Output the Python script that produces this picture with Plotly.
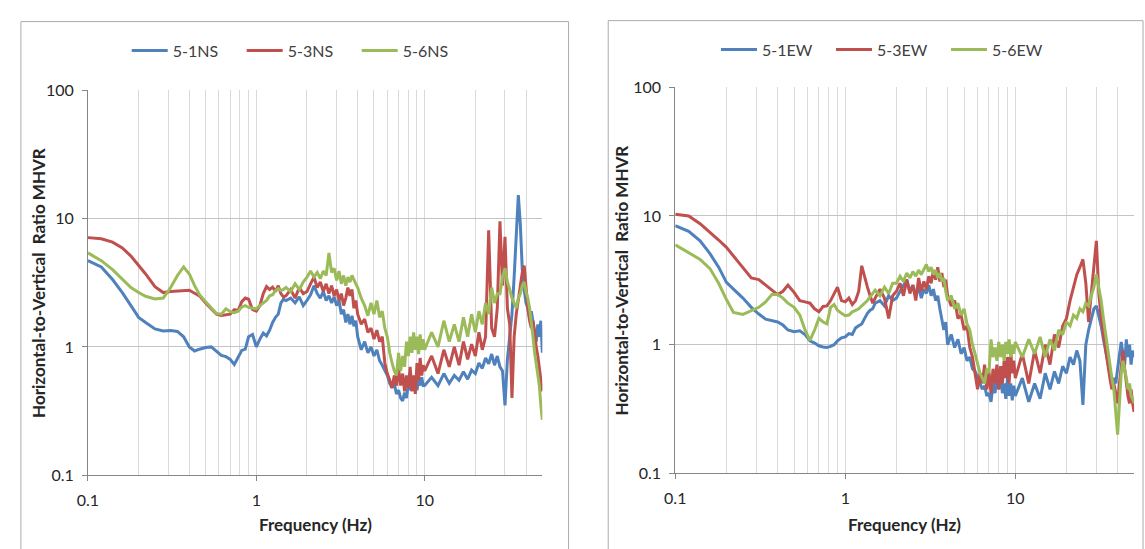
import plotly.graph_objects as go

# Frequency grid (Hz), shared by all series
FREQ = [0.1, 0.12, 0.14, 0.16, 0.18, 0.2, 0.22, 0.25, 0.28, 0.31, 0.34, 0.37, 0.4, 0.43, 0.46,
        0.5, 0.54, 0.58, 0.62, 0.66, 0.7, 0.74, 0.78, 0.82, 0.86, 0.9, 0.95,
        1.0, 1.05, 1.1, 1.15, 1.2, 1.25, 1.3, 1.35, 1.4, 1.45, 1.5, 1.6, 1.7, 1.8, 1.9,
        2.0, 2.1, 2.2, 2.3, 2.4, 2.5, 2.6, 2.7, 2.8, 2.9, 3.0, 3.1, 3.2, 3.3, 3.4, 3.5, 3.6, 3.7, 3.8, 3.9,
        4.0, 4.2, 4.4, 4.6, 4.8, 5.0, 5.2, 5.4, 5.6, 5.8, 6.0, 6.2, 6.4, 6.6, 6.8, 7.0, 7.2, 7.4, 7.6, 7.8,
        8.0, 8.2, 8.4, 8.6, 8.8, 9.0, 9.2, 9.4, 9.6, 9.8,
        10, 11, 12, 13, 14, 15, 16, 17, 18, 19, 20, 21, 22, 23, 24, 25, 26, 27, 28, 29,
        30, 31, 32, 33, 34, 35, 36, 37, 38, 39, 40, 41, 42, 43, 44, 45, 46, 47, 48, 49, 50]

NS_1 = ([4.7, 4.2, 3.35, 2.65, 2.1, 1.7, 1.55, 1.38, 1.33, 1.34, 1.32, 1.2, 1.0, 0.93, 0.96, 0.99, 1.0, 0.93, 0.86, 0.84, 0.8, 0.73, 0.82, 0.94, 0.96, 1.2, 1.25]
        + [1.0, 1.15, 1.28, 1.22, 1.35, 1.55, 1.7, 1.8, 2.2, 2.35, 2.3, 2.4, 2.2, 2.45, 2.1]
        + [2.3, 2.55, 3.0, 2.6, 2.4, 2.7, 2.3, 2.5, 2.2, 2.45, 2.1, 2.3, 1.8, 1.95, 1.55, 1.8, 1.5, 1.75, 1.45, 1.6]
        + [1.2, 0.95, 1.1, 0.9, 1.0, 0.85, 0.95, 0.78, 0.72, 0.65, 0.6, 0.52, 0.48, 0.52, 0.43, 0.46, 0.4, 0.38, 0.44, 0.4,
           0.52, 0.46, 0.55, 0.47, 0.53, 0.46, 0.56, 0.5, 0.58, 0.5]
        + [0.5, 0.58, 0.5, 0.62, 0.52, 0.6, 0.55, 0.64, 0.56, 0.66, 0.62, 0.75, 0.68, 0.82, 0.74, 0.88, 0.72, 0.85, 0.7, 0.65,
           0.35, 0.8, 1.2, 1.8, 3.5, 8.0, 15.2, 9.0, 4.0, 2.8, 2.2, 2.0, 1.7, 1.9, 1.5, 1.3, 1.1, 1.5, 1.2, 1.6, 0.9])

NS_3 = ([7.1, 6.95, 6.55, 5.9, 5.1, 4.35, 3.7, 2.95, 2.65, 2.7, 2.72, 2.75, 2.76, 2.62, 2.5, 2.2, 2.0, 1.8, 1.76, 1.78, 1.8, 1.95, 1.92, 2.25, 2.4, 2.35, 1.95]
        + [1.9, 2.1, 2.6, 2.95, 2.8, 2.92, 2.7, 3.0, 2.6, 2.45, 2.5, 2.8, 2.4, 2.9, 2.6]
        + [2.7, 3.1, 3.5, 2.9, 3.2, 2.7, 3.1, 2.6, 3.0, 2.5, 2.8, 2.3, 2.6, 2.1, 2.4, 2.9, 2.5, 2.8, 2.0, 2.3]
        + [1.8, 1.5, 1.65, 1.3, 1.4, 1.15, 1.35, 1.1, 1.2, 0.75, 0.62, 0.55, 0.48, 0.6, 0.5, 0.68, 0.5, 0.62, 0.45, 0.6,
           0.48, 0.7, 0.45, 0.6, 0.43, 0.75, 0.55, 0.82, 0.6, 0.72]
        + [0.65, 0.85, 0.62, 0.95, 0.7, 1.0, 0.72, 1.1, 0.8, 1.05, 0.85, 1.3, 0.95, 1.2, 8.1, 1.4, 1.2, 2.0, 9.5, 3.0,
           7.2, 2.0, 1.5, 0.4, 1.2, 1.8, 2.4, 3.0, 3.8, 4.3, 2.8, 2.0, 1.6, 1.4, 1.6, 1.2, 1.0, 0.85, 0.7, 0.55, 0.45])

NS_6 = ([5.4, 4.7, 4.0, 3.4, 2.9, 2.65, 2.48, 2.36, 2.4, 2.9, 3.6, 4.2, 3.7, 3.0, 2.55, 2.25, 2.0, 1.82, 1.8, 1.98, 1.88, 1.85, 1.9, 2.05, 2.1, 2.03, 2.0]
        + [1.98, 2.1, 2.2, 2.3, 2.5, 2.55, 2.75, 2.85, 2.75, 2.8, 2.9, 2.7, 3.1, 2.8, 3.2]
        + [3.5, 3.9, 3.5, 3.8, 3.4, 3.9, 3.6, 5.4, 3.8, 4.1, 3.3, 3.9, 3.1, 3.6, 3.0, 3.5, 3.2, 3.6, 3.3, 3.1]
        + [2.9, 2.4, 2.1, 1.75, 2.2, 1.8, 2.3, 1.7, 1.9, 1.4, 1.2, 0.9, 0.75, 0.65, 0.6, 0.9, 0.65, 0.85, 0.7, 1.1,
           0.85, 1.2, 0.9, 1.3, 0.95, 1.2, 0.88, 1.25, 0.95, 1.15]
        + [0.95, 1.3, 1.0, 1.6, 1.1, 1.5, 1.1, 1.7, 1.2, 1.8, 1.3, 1.9, 1.5, 2.2, 1.8, 2.9, 2.2, 2.6, 2.6, 3.5,
           4.1, 3.2, 2.8, 2.4, 2.2, 2.0, 2.4, 2.6, 3.0, 3.2, 2.7, 2.4, 2.0, 1.6, 1.2, 0.9, 0.75, 0.6, 0.5, 0.35, 0.27])

EW_1 = ([8.4, 7.6, 6.4, 5.1, 4.0, 3.05, 2.7, 2.3, 1.95, 1.73, 1.58, 1.53, 1.5, 1.42, 1.3, 1.26, 1.28, 1.2, 1.07, 1.03, 0.98, 0.96, 0.95, 0.97, 1.0, 1.07, 1.13]
        + [1.15, 1.22, 1.2, 1.35, 1.4, 1.45, 1.6, 1.75, 1.85, 1.9, 2.1, 2.2, 2.0, 2.4, 2.2]
        + [2.3, 2.6, 2.9, 3.2, 2.6, 2.9, 2.4, 2.8, 2.3, 2.7, 2.5, 2.9, 2.4, 2.7, 2.2, 2.4, 1.9, 1.6, 1.3, 1.5]
        + [1.0, 1.2, 0.95, 1.1, 0.85, 0.95, 0.75, 0.8, 0.65, 0.62, 0.55, 0.5, 0.45, 0.48, 0.4, 0.42, 0.36, 0.5, 0.42, 0.55,
           0.45, 0.6, 0.42, 0.5, 0.38, 0.55, 0.4, 0.5, 0.37, 0.48]
        + [0.4, 0.55, 0.36, 0.5, 0.38, 0.6, 0.45, 0.62, 0.5, 0.68, 0.6, 0.8, 0.7, 0.9, 0.75, 0.34, 1.0, 1.3, 1.6, 1.9,
           2.0, 1.7, 1.4, 1.1, 0.9, 0.75, 0.6, 0.5, 0.55, 0.5, 0.65, 0.8, 1.05, 0.85, 0.7, 1.1, 0.8, 1.0, 0.7, 0.9, 0.8])

EW_3 = ([10.3, 10.0, 8.7, 7.5, 6.5, 5.7, 4.9, 4.0, 3.3, 3.2, 2.9, 2.65, 2.45, 2.6, 2.9, 2.55, 2.2, 2.15, 2.1, 1.9, 1.8, 1.98, 2.0, 2.2, 2.5, 2.8, 2.2]
        + [2.15, 2.3, 2.05, 2.2, 2.6, 4.1, 3.3, 2.8, 2.4, 2.1, 2.3, 2.7, 2.3, 1.6, 2.4]
        + [2.6, 3.0, 2.4, 3.2, 2.5, 2.9, 2.2, 3.3, 2.6, 3.1, 2.7, 3.4, 3.0, 3.8, 3.2, 4.0, 3.1, 3.6, 2.8, 3.2]
        + [2.4, 2.0, 2.2, 1.6, 1.7, 1.3, 1.4, 0.95, 0.8, 0.6, 0.45, 0.6, 0.5, 0.7, 0.45, 0.62, 0.42, 0.65, 0.5, 0.7,
           0.45, 0.68, 0.5, 0.75, 0.55, 0.8, 0.5, 0.9, 0.6, 0.75]
        + [0.55, 0.85, 0.5, 0.9, 0.6, 1.0, 0.7, 1.2, 0.95, 1.4, 1.6, 2.2, 2.8, 3.5, 4.0, 4.6, 3.0, 1.5, 2.5, 4.2,
           6.4, 2.5, 1.6, 1.2, 0.9, 0.7, 0.55, 0.45, 0.5, 0.42, 0.35, 0.5, 0.7, 0.9, 0.65, 0.5, 0.4, 0.35, 0.45, 0.35, 0.3])

EW_6 = ([5.96, 5.2, 4.6, 3.9, 3.0, 2.24, 1.78, 1.72, 1.85, 1.95, 2.15, 2.45, 2.45, 2.3, 2.1, 1.95, 1.7, 1.3, 1.08, 1.3, 1.6, 1.5, 1.45, 1.95, 2.05, 1.85, 1.75]
        + [1.68, 1.7, 1.8, 1.85, 1.9, 2.0, 2.1, 2.2, 2.35, 2.5, 2.65, 2.4, 2.8, 2.5, 3.0]
        + [3.0, 3.4, 3.1, 3.6, 3.3, 3.7, 3.4, 3.8, 3.5, 3.9, 4.2, 3.7, 4.0, 3.5, 3.8, 3.3, 3.6, 3.1, 3.3, 2.6]
        + [2.2, 2.4, 1.9, 2.1, 1.7, 1.9, 1.45, 1.3, 1.0, 0.85, 0.7, 0.6, 0.55, 0.5, 0.65, 0.6, 1.1, 0.8, 0.95, 0.75,
           1.05, 0.8, 1.0, 0.75, 1.05, 0.85, 1.1, 0.8, 1.0, 0.85]
        + [1.05, 0.8, 1.1, 0.85, 1.15, 0.8, 1.1, 0.9, 1.3, 1.2, 1.5, 1.4, 1.7, 1.6, 1.9, 1.8, 2.1, 2.0, 2.4, 2.8,
           3.5, 2.8, 2.2, 1.6, 1.2, 0.9, 0.7, 0.55, 0.45, 0.3, 0.2, 0.35, 0.6, 0.75, 0.65, 0.55, 0.45, 0.5, 0.4, 0.38, 0.35])

NAMES_NS = ["5-1NS", "5-3NS", "5-6NS"]
NAMES_EW = ["5-1EW", "5-3EW", "5-6EW"]
COLORS = ["#4F81BD", "#C0504D", "#9BBB59"]

X_MAJOR = [0.1, 1, 10]
X_MAJOR_TEXT = ["0.1", "1", "10"]
X_MINOR = [0.2, 0.3, 0.4, 0.5, 0.6, 0.7, 0.8, 0.9, 2, 3, 4, 5, 6, 7, 8, 9, 20, 30, 40, 50]
Y_MAJOR = [0.1, 1, 10, 100]
Y_MAJOR_TEXT = ["0.1", "1", "10", "100"]

W, H = 1145, 549
FONT = "Lato, Carlito, Calibri, sans-serif"
VGRID = "#D9D9D9"
HGRID = "#C4C4C4"
AXIS = "#868686"

fig = go.Figure()
for name, vals, col in zip(NAMES_NS, [NS_1, NS_3, NS_6], COLORS):
    fig.add_trace(go.Scatter(x=FREQ, y=vals, mode="lines", name=name,
                             line=dict(color=col, width=3), xaxis="x", yaxis="y", legend="legend"))
for name, vals, col in zip(NAMES_EW, [EW_1, EW_3, EW_6], COLORS):
    fig.add_trace(go.Scatter(x=FREQ, y=vals, mode="lines", name=name,
                             line=dict(color=col, width=3), xaxis="x2", yaxis="y2", legend="legend2"))


def px_x(p):
    return p / W


def px_y(p):
    return 1 - p / H


def xaxis(dom, anchor):
    return dict(type="log", domain=dom, anchor=anchor, range=[-1, 1.69899],
                tickmode="array", tickvals=X_MAJOR, ticktext=X_MAJOR_TEXT,
                showgrid=True, gridcolor=VGRID, gridwidth=1,
                minor=dict(tickmode="array", tickvals=X_MINOR, showgrid=True, gridcolor=VGRID, gridwidth=1, ticks=""),
                showline=True, linecolor=AXIS, linewidth=1, ticks="outside", ticklen=5, tickcolor=AXIS,
                tickfont=dict(family=FONT, size=16, color="#262626"), ticklabelstandoff=5, fixedrange=True)


def yaxis(dom, anchor):
    return dict(type="log", domain=dom, anchor=anchor, range=[-1, 2],
                tickmode="array", tickvals=Y_MAJOR, ticktext=Y_MAJOR_TEXT,
                showgrid=True, gridcolor=HGRID, gridwidth=1,
                showline=True, linecolor=AXIS, linewidth=1, ticks="outside", ticklen=5, tickcolor=AXIS,
                tickfont=dict(family=FONT, size=16, color="#262626"), ticklabelstandoff=5, fixedrange=True)


legend_common = dict(orientation="h", xanchor="center", yanchor="middle",
                     font=dict(family=FONT, size=16, color="#404040"), bgcolor="rgba(0,0,0,0)",
                     entrywidth=64, entrywidthmode="pixels", itemwidth=36)

fig.update_layout(
    width=W, height=H, margin=dict(l=0, r=0, t=0, b=0),
    paper_bgcolor="white", plot_bgcolor="white",
    xaxis=xaxis([px_x(77.7), px_x(536.5)], "y"),
    yaxis=yaxis([px_y(482), px_y(83)], "x"),
    xaxis2=xaxis([px_x(670.7), px_x(1134)], "y2"),
    yaxis2=yaxis([px_y(480), px_y(80)], "x2"),
    legend=dict(x=px_x(291), y=px_y(42), **legend_common),
    legend2=dict(x=px_x(886), y=px_y(41), **legend_common),
    showlegend=True,
)

# Chart-area borders
fig.add_shape(type="rect", xref="paper", yref="paper", x0=px_x(10), x1=px_x(563), y0=-0.05, y1=px_y(12),
              line=dict(color="#ABABAB", width=1), fillcolor="rgba(0,0,0,0)", layer="below")
fig.add_shape(type="rect", xref="paper", yref="paper", x0=px_x(603), x1=px_x(1143), y0=-0.05, y1=px_y(11),
              line=dict(color="#ABABAB", width=1), fillcolor="rgba(0,0,0,0)", layer="below")

YTITLE = "Horizontal-to-Vertical\u00a0 Ratio MHVR"
XTITLE = "Frequency (Hz)"
tfont = dict(family=FONT, size=17, color="#262626")
for xp, yp in [(27, 283), (616, 280)]:
    fig.add_annotation(text="<b>" + YTITLE + "</b>", xref="paper", yref="paper", x=px_x(xp), y=px_y(yp),
                       textangle=-90, showarrow=False, font=tfont, xanchor="center", yanchor="middle")
for xp in [307, 902]:
    fig.add_annotation(text="<b>" + XTITLE + "</b>", xref="paper", yref="paper", x=px_x(xp), y=px_y(533),
                       showarrow=False, font=tfont, xanchor="center", yanchor="middle")

fig.write_html("out.html", config={"displayModeBar": False},
               post_script="document.body.style.margin='0';document.body.style.overflow='hidden';")
